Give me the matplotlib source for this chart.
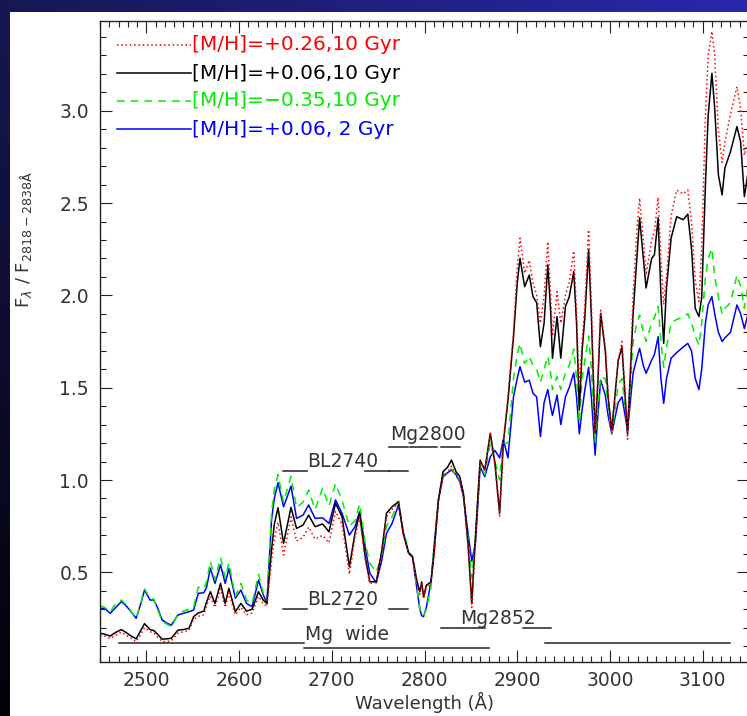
import numpy as np
import matplotlib
matplotlib.use("Agg")
import matplotlib.pyplot as plt
from matplotlib.patches import Rectangle

# model spectra, normalised to the 2818-2838 A window
wave = [2450, 2455, 2461, 2467, 2473, 2478, 2482, 2489, 2494, 2498, 2504, 2508, 2512, 2517,
        2522, 2527, 2534, 2540, 2546, 2551, 2556, 2562, 2565, 2569, 2574, 2580, 2585, 2589,
        2596, 2602, 2608, 2614, 2621, 2626, 2630, 2635, 2638, 2642, 2648, 2656, 2662, 2669,
        2675, 2682, 2690, 2697, 2704, 2711, 2719, 2725, 2730, 2736, 2741, 2748,
        2754, 2759, 2765, 2772, 2777, 2783, 2787, 2792, 2795, 2797, 2799, 2802, 2807, 2810,
        2815, 2820, 2825, 2829, 2834, 2838, 2842, 2847, 2851, 2855, 2860, 2865, 2871, 2876, 2881,
        2885, 2890, 2896, 2900, 2903, 2908, 2913, 2917, 2921, 2925, 2929, 2933, 2936, 2938, 2943, 2947,
        2952, 2956, 2961, 2964, 2967, 2970, 2973, 2977, 2980, 2984, 2987, 2990, 2995, 2998, 3002, 3006, 3009,
        3013, 3019, 3025, 3029, 3032, 3036, 3039, 3045, 3048, 3052, 3055, 3058,
        3061, 3066, 3072, 3079, 3084, 3088, 3092, 3096, 3099, 3103, 3106, 3110, 3113, 3117, 3121,
        3124, 3130, 3137, 3141, 3145, 3150]

flux_m026_10 = [0.155, 0.155, 0.142, 0.16, 0.176, 0.16, 0.148, 0.125, 0.165, 0.2, 0.178, 0.172, 0.15, 0.125,
                0.125, 0.13, 0.17, 0.178, 0.185, 0.245, 0.262, 0.27, 0.32, 0.37, 0.31, 0.41, 0.31, 0.39,
                0.27, 0.31, 0.27, 0.28, 0.37, 0.33, 0.315, 0.56, 0.68, 0.77, 0.594, 0.8, 0.67, 0.69,
                0.745, 0.68, 0.7, 0.66, 0.83, 0.76, 0.49, 0.69, 0.8, 0.57, 0.44, 0.445,
                0.6, 0.8, 0.84, 0.875, 0.71, 0.6, 0.58, 0.44, 0.38, 0.44, 0.355, 0.42, 0.44, 0.58,
                0.88, 1.02, 1.04, 1.075, 1.02, 1.0, 0.92, 0.64, 0.31, 0.68, 1.1, 1.05, 1.25, 1.08, 0.8,
                1.2, 1.45, 1.8, 2.15, 2.31, 2.12, 2.19, 2.07, 2.0, 1.85, 2.0, 2.29, 2.0, 1.78, 2.02, 1.85,
                2.0, 2.07, 2.24, 1.9, 1.5, 1.75, 1.95, 2.355, 1.95, 1.25, 1.55, 1.92, 1.72, 1.47, 1.25, 1.5, 1.65,
                1.75, 1.22, 2.0, 2.35, 2.526, 2.3, 2.11, 2.3, 2.35, 2.53, 2.2, 1.95,
                2.1, 2.43, 2.57, 2.55, 2.57, 2.4, 2.08, 1.966, 2.26, 2.98, 3.3, 3.43, 3.3, 2.89, 2.72,
                2.83, 2.98, 3.13, 3.01, 2.76, 2.85]

flux_m006_10 = [0.17, 0.165, 0.155, 0.175, 0.19, 0.175, 0.16, 0.14, 0.185, 0.222, 0.19, 0.185, 0.165, 0.138,
                0.14, 0.143, 0.187, 0.19, 0.197, 0.26, 0.28, 0.29, 0.34, 0.395, 0.332, 0.44, 0.332, 0.413,
                0.287, 0.332, 0.29, 0.3, 0.395, 0.35, 0.332, 0.62, 0.76, 0.85, 0.657, 0.852, 0.738, 0.756,
                0.81, 0.747, 0.762, 0.72, 0.874, 0.802, 0.53, 0.711, 0.82, 0.585, 0.449, 0.449,
                0.62, 0.82, 0.855, 0.883, 0.711, 0.603, 0.585, 0.449, 0.395, 0.449, 0.368, 0.43, 0.449, 0.585,
                0.89, 1.045, 1.07, 1.108, 1.045, 1.02, 0.928, 0.65, 0.33, 0.7, 1.108, 1.054, 1.253, 1.09, 0.82,
                1.2, 1.43, 1.776, 2.065, 2.201, 2.047, 2.11, 1.993, 1.96, 1.722, 1.85, 2.165, 1.921, 1.659, 1.885, 1.66,
                1.94, 1.99, 2.129, 1.849, 1.379, 1.7, 1.885, 2.247, 1.885, 1.253, 1.53, 1.903, 1.7, 1.45, 1.27, 1.49, 1.65,
                1.72, 1.25, 1.9, 2.2, 2.42, 2.2, 2.04, 2.2, 2.22, 2.42, 2.0, 1.74,
                2.04, 2.31, 2.426, 2.41, 2.44, 2.255, 1.93, 1.885, 1.99, 2.6, 2.977, 3.203, 3.014, 2.652, 2.544,
                2.69, 2.778, 2.914, 2.83, 2.535, 2.7]

flux_m035_10 = [0.32, 0.31, 0.285, 0.33, 0.35, 0.325, 0.3, 0.25, 0.335, 0.41, 0.36, 0.355, 0.3, 0.235,
                0.22, 0.205, 0.275, 0.29, 0.3, 0.31, 0.42, 0.41, 0.45, 0.56, 0.46, 0.58, 0.47, 0.55,
                0.37, 0.44, 0.35, 0.33, 0.49, 0.39, 0.34, 0.82, 0.95, 1.03, 0.88, 1.02, 0.85, 0.88,
                0.946, 0.84, 0.956, 0.86, 0.98, 0.89, 0.75, 0.78, 0.87, 0.66, 0.55, 0.5,
                0.6, 0.75, 0.8, 0.885, 0.73, 0.61, 0.59, 0.41, 0.3, 0.27, 0.265, 0.3, 0.42, 0.62,
                0.9, 1.03, 1.05, 1.06, 1.03, 1.0, 0.92, 0.68, 0.47, 0.68, 1.08, 1.03, 1.2, 1.1, 1.0,
                1.2, 1.2, 1.55, 1.68, 1.74, 1.63, 1.67, 1.62, 1.6, 1.53, 1.6, 1.67, 1.58, 1.49, 1.56, 1.49,
                1.58, 1.62, 1.71, 1.55, 1.31, 1.55, 1.65, 1.78, 1.6, 1.2, 1.4, 1.56, 1.55, 1.4, 1.25, 1.4, 1.52,
                1.55, 1.28, 1.75, 1.85, 1.894, 1.8, 1.75, 1.85, 1.88, 1.94, 1.75, 1.61,
                1.72, 1.85, 1.87, 1.88, 1.9, 1.85, 1.78, 1.73, 1.85, 2.1, 2.2, 2.255, 2.1, 1.99, 1.9,
                1.93, 1.96, 2.11, 2.05, 1.93, 2.1]

flux_m006_2 = [0.305, 0.305, 0.278, 0.31, 0.341, 0.32, 0.296, 0.251, 0.33, 0.404, 0.35, 0.35, 0.31, 0.242,
               0.225, 0.214, 0.269, 0.278, 0.287, 0.296, 0.386, 0.39, 0.42, 0.522, 0.44, 0.54, 0.44, 0.52,
               0.36, 0.404, 0.332, 0.314, 0.458, 0.38, 0.332, 0.783, 0.9, 0.985, 0.855, 0.967, 0.792, 0.81,
               0.865, 0.792, 0.795, 0.765, 0.892, 0.82, 0.702, 0.747, 0.828, 0.639, 0.495, 0.444,
               0.567, 0.711, 0.765, 0.865, 0.72, 0.603, 0.585, 0.404, 0.3, 0.265, 0.26, 0.31, 0.45, 0.62,
               0.892, 1.018, 1.04, 1.054, 1.03, 0.991, 0.91, 0.711, 0.56, 0.66, 1.072, 1.018, 1.126, 1.16, 1.12,
               1.22, 1.12, 1.45, 1.55, 1.614, 1.53, 1.54, 1.47, 1.45, 1.235, 1.42, 1.49, 1.4, 1.35, 1.46, 1.3,
               1.45, 1.5, 1.58, 1.45, 1.25, 1.38, 1.49, 1.61, 1.45, 1.135, 1.35, 1.54, 1.46, 1.35, 1.25, 1.35, 1.42,
               1.45, 1.27, 1.58, 1.66, 1.713, 1.62, 1.578, 1.65, 1.68, 1.776, 1.55, 1.415,
               1.55, 1.66, 1.69, 1.72, 1.74, 1.7, 1.55, 1.49, 1.6, 1.85, 1.95, 1.993, 1.9, 1.8, 1.75,
               1.77, 1.8, 1.948, 1.9, 1.82, 1.92]

legend_labels = ["[M/H]=+0.26,10 Gyr", "[M/H]=+0.06,10 Gyr", "[M/H]=\u22120.35,10 Gyr", "[M/H]=+0.06, 2 Gyr"]

# index passbands (blue continuum, feature, red continuum) in Angstrom
bands = {
    "BL2740": [(2647, 2673), (2736, 2762), (2762, 2782)],
    "BL2720": [(2647, 2673), (2713, 2733), (2762, 2782)],
    "Mg2800": [(2762, 2782), (2784, 2814), (2818, 2838)],
    "Mg2852": [(2818, 2838), (2839, 2865), (2906, 2936)],
    "Mg wide": [(2470, 2670), (2670, 2870), (2930, 3130)],
}

W, H = 747, 716
fig = plt.figure(figsize=(W / 100, H / 100), dpi=100)

# slide background
bg = fig.add_axes([0, 0, 1, 1])
gx = np.linspace(0, 1, 200)[None, :, None]
gy = np.linspace(0, 1, 200)[:, None, None]
dark = np.array([0.09, 0.09, 0.33])
bright = np.array([0.16, 0.16, 0.68])
grad = (dark + (bright - dark) * gx) * (1 - 0.92 * gy)
bg.imshow(grad, extent=[0, 1, 0, 1], aspect="auto", origin="upper")
bg.add_patch(Rectangle((10 / W, 0), 1, (H - 12) / H, color="white", lw=0))
bg.set_xlim(0, 1)
bg.set_ylim(0, 1)
bg.axis("off")

ax = fig.add_axes([100 / W, (H - 661.7) / H, 649 / W, 640.7 / H])
ax.set_facecolor("none")

lw = 1.1
ax.plot(wave, flux_m006_2, color="#0000ff", lw=lw)
ax.plot(wave, flux_m035_10, color="#00ee00", lw=lw, ls=(0, (5, 4)))
ax.plot(wave, flux_m006_10, color="black", lw=lw)
ax.plot(wave, flux_m026_10, color="#ff0000", lw=lw, ls=(0, (1, 1.8)))

ax.set_xlim(2450, 3150)
ax.set_ylim(0.016, 3.486)
ax.set_xticks(np.arange(2500, 3101, 100))
ax.set_xticks(np.arange(2450, 3151, 10), minor=True)
ax.set_yticks([0.5, 1.0, 1.5, 2.0, 2.5, 3.0])
ax.set_yticks(np.arange(0.1, 3.5, 0.1), minor=True)
ax.set_yticklabels(["0.5", "1.0", "1.5", "2.0", "2.5", "3.0"])
ax.tick_params(which="both", direction="in", top=True, right=True, width=0.8, colors="#222222",
               labelsize=13.5, labelcolor="#333333")
ax.tick_params(which="major", length=8.5)
ax.tick_params(which="minor", length=4.3)
ax.tick_params(axis="x", pad=7)
ax.tick_params(axis="y", pad=8)
for sp in ax.spines.values():
    sp.set_linewidth(1.0)
    sp.set_color("#222222")

# legend drawn by hand, line then coloured label
styles = [("#ff0000", (0, (1, 1.8))), ("black", "-"), ("#00ee00", (0, (5, 4))), ("#0000ff", "-")]
rows = [45, 73.3, 101, 129.3]
for (col, ls), lab, py in zip(styles, legend_labels, rows):
    yf = (661.7 - py) / 640.7
    ax.plot([17 / 649, 91 / 649], [yf, yf], color=col, ls=ls, lw=lw, transform=ax.transAxes)
    ax.text(92 / 649, yf, lab, color=col, fontsize=14.5, ha="left", va="center",
            transform=ax.transAxes)

# passband markers with index names
label_pos = {
    "BL2740": (2673, 1.072, 1.050),
    "BL2720": (2673, 0.323, 0.301),
    "Mg2800": (2763, 1.217, 1.180),
    "Mg2852": (2838.5, 0.222, 0.200),
}
for name, (tx, ty, ly) in label_pos.items():
    for a, b in bands[name]:
        ax.plot([a, b], [ly, ly], color="#222222", lw=1.1)
    ax.text(tx, ty, name, fontsize=13.5, color="#333333", ha="left", va="baseline")

mw = bands["Mg wide"]
ax.plot(mw[0], [0.119, 0.119], color="#222222", lw=1.1)
ax.plot(mw[1], [0.092, 0.092], color="#222222", lw=1.1)
ax.plot(mw[2], [0.119, 0.119], color="#222222", lw=1.1)
ax.text(2671, 0.134, "Mg  wide", fontsize=13.5, color="#333333", ha="left", va="baseline")

fig.text(424.5 / W, 1 - 702 / H, "Wavelength (Å)", fontsize=13, color="#333333",
         ha="center", va="center")
fig.text(24 / W, 1 - 240 / H, r"F$_\lambda$ / F$_{\mathregular{2818-2838Å}}$", fontsize=13,
         color="#333333", rotation=90, ha="center", va="center")

fig.savefig("out.png", dpi=100)
